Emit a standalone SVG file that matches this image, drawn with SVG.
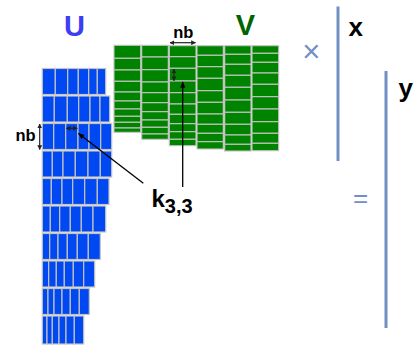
<svg xmlns="http://www.w3.org/2000/svg" width="417" height="345" viewBox="0 0 417 345">
<style>
.u{fill:#0048f2;stroke:#c4c4c4;stroke-width:1.2}
.v{fill:#008400;stroke:#c4c4c4;stroke-width:1.1}
.lbl{font-family:"Liberation Sans",Arial,sans-serif;font-weight:bold}
.vec{stroke:#7090c4;stroke-width:3;fill:none}
.op{font-family:"Liberation Sans",Arial,sans-serif;fill:#7090c4}
.con{stroke:#000;stroke-width:1.3;fill:none}
.dim{stroke:#222;stroke-width:1.2;fill:none}
</style>
<defs>
<marker id="ah" viewBox="0 0 10 10" refX="9" refY="5" markerWidth="5" markerHeight="5" orient="auto-start-reverse" markerUnits="strokeWidth"><path d="M0,1 L10,5 L0,9 Z" fill="#000"/></marker>
<marker id="dh" viewBox="0 0 10 10" refX="9" refY="5" markerWidth="4" markerHeight="4.5" orient="auto-start-reverse" markerUnits="strokeWidth"><path d="M0,0 L10,5 L0,10 Z" fill="#222"/></marker>
</defs>
<rect width="417" height="345" fill="#fff"/>
<g id="U">
<g id="U-r1"><rect class="u" x="42.3" y="68.5" width="13" height="26"/><rect class="u" x="55.3" y="68.5" width="12.4" height="26"/><rect class="u" x="67.7" y="68.5" width="10.6" height="26"/><rect class="u" x="78.3" y="68.5" width="10.4" height="26"/><rect class="u" x="88.7" y="68.5" width="8.6" height="26"/><rect class="u" x="97.3" y="68.5" width="8.4" height="26"/></g>
<g id="U-r2"><rect class="u" x="42.3" y="96" width="12" height="26"/><rect class="u" x="54.3" y="96" width="13" height="26"/><rect class="u" x="67.3" y="96" width="11.4" height="26"/><rect class="u" x="78.7" y="96" width="11.3" height="26"/><rect class="u" x="90" y="96" width="10" height="26"/><rect class="u" x="100" y="96" width="9.7" height="26"/></g>
<g id="U-r3"><rect class="u" x="42.3" y="123.5" width="11.4" height="26"/><rect class="u" x="53.7" y="123.5" width="12" height="26"/><rect class="u" x="65.7" y="123.5" width="12.3" height="26"/><rect class="u" x="78" y="123.5" width="11" height="26"/><rect class="u" x="89" y="123.5" width="11.7" height="26"/><rect class="u" x="100.7" y="123.5" width="11" height="26"/></g>
<g id="U-r4"><rect class="u" x="42.3" y="151" width="10" height="26"/><rect class="u" x="52.3" y="151" width="10.7" height="26"/><rect class="u" x="63" y="151" width="12.3" height="26"/><rect class="u" x="75.3" y="151" width="12.7" height="26"/><rect class="u" x="88" y="151" width="12.3" height="26"/><rect class="u" x="100.3" y="151" width="11.4" height="26"/></g>
<g id="U-r5"><rect class="u" x="42.3" y="178.5" width="9" height="26"/><rect class="u" x="51.3" y="178.5" width="10.7" height="26"/><rect class="u" x="62" y="178.5" width="10.7" height="26"/><rect class="u" x="72.7" y="178.5" width="12" height="26"/><rect class="u" x="84.7" y="178.5" width="12.6" height="26"/><rect class="u" x="97.3" y="178.5" width="11.7" height="26"/></g>
<g id="U-r6"><rect class="u" x="42.3" y="206" width="8" height="26"/><rect class="u" x="50.3" y="206" width="9.4" height="26"/><rect class="u" x="59.7" y="206" width="10.6" height="26"/><rect class="u" x="70.3" y="206" width="11" height="26"/><rect class="u" x="81.3" y="206" width="11.7" height="26"/><rect class="u" x="93" y="206" width="12.7" height="26"/></g>
<g id="U-r7"><rect class="u" x="42.3" y="233.5" width="7.4" height="26"/><rect class="u" x="49.7" y="233.5" width="8.3" height="26"/><rect class="u" x="58" y="233.5" width="9.3" height="26"/><rect class="u" x="67.3" y="233.5" width="10" height="26"/><rect class="u" x="77.3" y="233.5" width="11" height="26"/><rect class="u" x="88.3" y="233.5" width="12" height="26"/></g>
<g id="U-r8"><rect class="u" x="42.3" y="261" width="6.4" height="26"/><rect class="u" x="48.7" y="261" width="7.6" height="26"/><rect class="u" x="56.3" y="261" width="8" height="26"/><rect class="u" x="64.3" y="261" width="9" height="26"/><rect class="u" x="73.3" y="261" width="10.4" height="26"/><rect class="u" x="83.7" y="261" width="11" height="26"/></g>
<g id="U-r9"><rect class="u" x="42.3" y="288.5" width="5.7" height="26"/><rect class="u" x="48" y="288.5" width="6" height="26"/><rect class="u" x="54" y="288.5" width="8" height="26"/><rect class="u" x="62" y="288.5" width="8.3" height="26"/><rect class="u" x="70.3" y="288.5" width="9" height="26"/><rect class="u" x="79.3" y="288.5" width="10" height="26"/></g>
<g id="U-r10"><rect class="u" x="42.3" y="316" width="4.7" height="28"/><rect class="u" x="47" y="316" width="5.3" height="28"/><rect class="u" x="52.3" y="316" width="6.7" height="28"/><rect class="u" x="59" y="316" width="7" height="28"/><rect class="u" x="66" y="316" width="8.3" height="28"/><rect class="u" x="74.3" y="316" width="9.4" height="28"/></g>
</g>
<g id="V">
<g id="V-c1"><rect class="v" x="114" y="45.3" width="26.7" height="13"/><rect class="v" x="114" y="58.3" width="26.7" height="11.7"/><rect class="v" x="114" y="70" width="26.7" height="11.3"/><rect class="v" x="114" y="81.3" width="26.7" height="10.7"/><rect class="v" x="114" y="92" width="26.7" height="9"/><rect class="v" x="114" y="101" width="26.7" height="8"/><rect class="v" x="114" y="109" width="26.7" height="7.3"/><rect class="v" x="114" y="116.3" width="26.7" height="6"/><rect class="v" x="114" y="122.3" width="26.7" height="5.7"/><rect class="v" x="114" y="128" width="26.7" height="4.3"/></g>
<g id="V-c2"><rect class="v" x="141.7" y="45.3" width="26.6" height="11.7"/><rect class="v" x="141.7" y="57" width="26.6" height="12.7"/><rect class="v" x="141.7" y="69.7" width="26.6" height="12.3"/><rect class="v" x="141.7" y="82" width="26.6" height="10.7"/><rect class="v" x="141.7" y="92.7" width="26.6" height="10"/><rect class="v" x="141.7" y="102.7" width="26.6" height="9"/><rect class="v" x="141.7" y="111.7" width="26.6" height="8.3"/><rect class="v" x="141.7" y="120" width="26.6" height="7.3"/><rect class="v" x="141.7" y="127.3" width="26.6" height="6.7"/><rect class="v" x="141.7" y="134" width="26.6" height="5.3"/></g>
<g id="V-c3"><rect class="v" x="169.3" y="45.7" width="26.7" height="11"/><rect class="v" x="169.3" y="56.7" width="26.7" height="11.6"/><rect class="v" x="169.3" y="68.3" width="26.7" height="12.7"/><rect class="v" x="169.3" y="81" width="26.7" height="11.7"/><rect class="v" x="169.3" y="92.7" width="26.7" height="11.3"/><rect class="v" x="169.3" y="104" width="26.7" height="10.3"/><rect class="v" x="169.3" y="114.3" width="26.7" height="9.4"/><rect class="v" x="169.3" y="123.7" width="26.7" height="8"/><rect class="v" x="169.3" y="131.7" width="26.7" height="7.6"/><rect class="v" x="169.3" y="139.3" width="26.7" height="6.4"/></g>
<g id="V-c4"><rect class="v" x="197" y="45.7" width="26.3" height="9.6"/><rect class="v" x="197" y="55.3" width="26.3" height="11.4"/><rect class="v" x="197" y="66.7" width="26.3" height="11.6"/><rect class="v" x="197" y="78.3" width="26.3" height="12.4"/><rect class="v" x="197" y="90.7" width="26.3" height="11.6"/><rect class="v" x="197" y="102.3" width="26.3" height="11.7"/><rect class="v" x="197" y="114" width="26.3" height="10.3"/><rect class="v" x="197" y="124.3" width="26.3" height="9"/><rect class="v" x="197" y="133.3" width="26.3" height="8.4"/><rect class="v" x="197" y="141.7" width="26.3" height="7.3"/></g>
<g id="V-c5"><rect class="v" x="224.7" y="45.7" width="26.3" height="8.6"/><rect class="v" x="224.7" y="54.3" width="26.3" height="10"/><rect class="v" x="224.7" y="64.3" width="26.3" height="11"/><rect class="v" x="224.7" y="75.3" width="26.3" height="12"/><rect class="v" x="224.7" y="87.3" width="26.3" height="12.7"/><rect class="v" x="224.7" y="100" width="26.3" height="12.3"/><rect class="v" x="224.7" y="112.3" width="26.3" height="12"/><rect class="v" x="224.7" y="124.3" width="26.3" height="10.7"/><rect class="v" x="224.7" y="135" width="26.3" height="9.3"/><rect class="v" x="224.7" y="144.3" width="26.3" height="6.7"/></g>
<g id="V-c6"><rect class="v" x="252" y="45.7" width="26.7" height="7.6"/><rect class="v" x="252" y="53.3" width="26.7" height="9"/><rect class="v" x="252" y="62.3" width="26.7" height="10.7"/><rect class="v" x="252" y="73" width="26.7" height="11.3"/><rect class="v" x="252" y="84.3" width="26.7" height="12.4"/><rect class="v" x="252" y="96.7" width="26.7" height="12.3"/><rect class="v" x="252" y="109" width="26.7" height="12.7"/><rect class="v" x="252" y="121.7" width="26.7" height="11.6"/><rect class="v" x="252" y="133.3" width="26.7" height="10"/><rect class="v" x="252" y="143.3" width="26.7" height="7.4"/></g>
</g>
<g id="x-vec"><line class="vec" x1="338" y1="6.5" x2="338" y2="161"/><text class="lbl" x="355.7" y="35.5" font-size="26" text-anchor="middle" fill="#000">x</text></g>
<g id="y-vec"><line class="vec" x1="386" y1="71" x2="386" y2="328"/><text class="lbl" x="405.8" y="97" font-size="26" text-anchor="middle" fill="#000">y</text></g>
<g id="labels">
<text class="lbl" x="74.5" y="36" font-size="29" text-anchor="middle" fill="#3d3df2">U</text>
<text class="lbl" x="245.3" y="34.7" font-size="29" text-anchor="middle" fill="#006400">V</text>
<text class="lbl" x="183.3" y="38" font-size="16.5" text-anchor="middle" fill="#000">nb</text>
<text class="lbl" x="25.5" y="141" font-size="16.5" text-anchor="middle" fill="#000">nb</text>
<text class="lbl" x="151.5" y="207.3" font-size="24" fill="#000">k<tspan font-size="20" dy="5.3">3,3</tspan></text>
<text class="op" x="311.2" y="62" font-size="31" text-anchor="middle">×</text>
<text class="op" x="360.7" y="207" font-size="26" text-anchor="middle">=</text>
</g>
<g id="connectors">
<line class="con" x1="143.3" y1="183.3" x2="78.5" y2="133.5" marker-end="url(#ah)"/>
<line class="con" x1="182.7" y1="187" x2="182.7" y2="82" marker-end="url(#ah)"/>
<line class="dim" x1="170" y1="42.7" x2="195.5" y2="42.7" marker-start="url(#dh)" marker-end="url(#dh)"/>
<line class="dim" x1="39.7" y1="124" x2="39.7" y2="149.5" marker-start="url(#dh)" marker-end="url(#dh)"/>
<line class="dim" x1="66.3" y1="128.3" x2="77.3" y2="128.3" marker-start="url(#dh)" marker-end="url(#dh)"/>
<line class="dim" x1="174" y1="69" x2="174" y2="80.7" marker-start="url(#dh)" marker-end="url(#dh)"/>
</g>
</svg>
